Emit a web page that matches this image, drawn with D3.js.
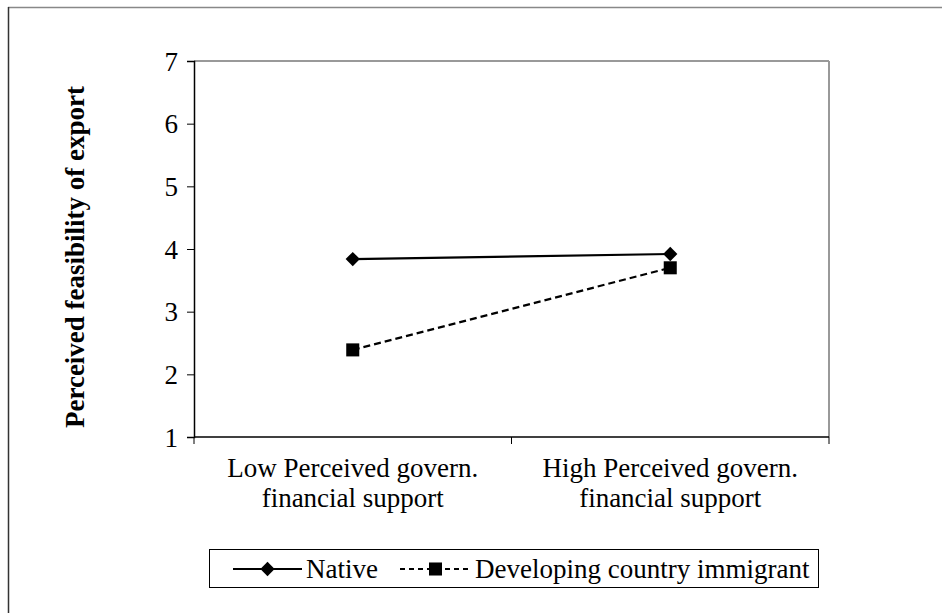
<!DOCTYPE html>
<html>
<head>
<meta charset="utf-8">
<script src="https://cdn.jsdelivr.net/npm/d3@7"></script>
<style>
  body { margin: 0; background: #fff; }
</style>
</head>
<body>
<div id="chart"></div>
<script>
// Datos
const categories = ["Low Perceived govern.\nfinancial support", "High Perceived govern.\nfinancial support"]
const seriesNames = ["Native", "Developing country immigrant"]
const nativeValues = [3.84, 3.92]
const immigrantValues = [2.39, 3.70]
const yTicks = [1, 2, 3, 4, 5, 6, 7]

const W = 942, H = 613
const margin = { left: 194, top: 61, right: 942 - 829, bottom: 613 - 437 }
const FS = "27px"
const FONT = "'Liberation Serif', 'Times New Roman', serif"

const SVG = d3.select("#chart").append("svg")
    .attr("width", W)
    .attr("height", H)

// marco exterior
SVG.append("line").attr("x1", 8).attr("x2", W).attr("y1", 7.5).attr("y2", 7.5)
    .attr("stroke", "#888").attr("stroke-width", 1.5)
SVG.append("line").attr("x1", 8.5).attr("x2", 8.5).attr("y1", 7).attr("y2", H)
    .attr("stroke", "#333").attr("stroke-width", 1.5)

const escalaX = d3.scaleBand()
    .domain(d3.range(categories.length))
    .range([margin.left, W - margin.right])

const escalaY = d3.scaleLinear()
    .domain([1, 7])
    .range([H - margin.bottom, margin.top])

// borde del área de gráfico (gris arriba y derecha)
SVG.append("line").attr("x1", margin.left).attr("x2", W - margin.right)
    .attr("y1", margin.top).attr("y2", margin.top).attr("stroke", "#999").attr("stroke-width", 2)
SVG.append("line").attr("x1", W - margin.right).attr("x2", W - margin.right)
    .attr("y1", margin.top).attr("y2", H - margin.bottom).attr("stroke", "#999").attr("stroke-width", 2)

// eje Y
const ejeY = SVG.append("g")
    .attr("transform", `translate(${margin.left},0)`)
    .call(d3.axisLeft(escalaY).tickValues(yTicks).tickSize(7).tickPadding(9).tickFormat(d3.format("d")))
ejeY.attr("font-family", null).attr("font-size", null)
ejeY.select(".domain").attr("stroke", "#000").attr("stroke-width", 1.5)
ejeY.selectAll(".tick line").attr("stroke", "#000").attr("stroke-width", 1)
ejeY.selectAll("text")
    .style("font-family", FONT)
    .style("font-size", FS)
    .attr("fill", "#000")
    .attr("dy", "0.34em")

// eje X (ticks en los bordes de las bandas)
const xEdges = d3.range(categories.length + 1).map(i =>
    i < categories.length ? escalaX(i) : escalaX(i - 1) + escalaX.bandwidth())
SVG.append("line").attr("x1", margin.left).attr("x2", W - margin.right)
    .attr("y1", escalaY(1)).attr("y2", escalaY(1)).attr("stroke", "#000").attr("stroke-width", 1.5)
SVG.selectAll(".xtick").data(xEdges).join("line")
    .attr("class", "xtick")
    .attr("x1", d => d).attr("x2", d => d)
    .attr("y1", escalaY(1)).attr("y2", escalaY(1) + 7)
    .attr("stroke", "#000")

const catLabels = SVG.selectAll(".cat").data(categories).join("text")
    .attr("class", "cat")
    .attr("text-anchor", "middle")
    .style("font-family", FONT)
    .style("font-size", FS)
catLabels.each(function (d, i) {
    const t = d3.select(this)
    d.split("\n").forEach((line, j) => {
        t.append("tspan")
            .attr("x", escalaX(i) + escalaX.bandwidth() / 2)
            .attr("y", 477 + j * 30)
            .text(line)
    })
})

// título eje Y
SVG.append("text")
    .attr("transform", `translate(84,${(margin.top + H - margin.bottom) / 2 + 8}) rotate(-90)`)
    .attr("text-anchor", "middle")
    .style("font-family", FONT)
    .style("font-size", FS)
    .style("font-weight", "bold")
    .text("Perceived feasibility of export")

const cx = i => escalaX(i) + escalaX.bandwidth() / 2
const linea = d3.line().x((d, i) => cx(i)).y(d => escalaY(d))

const diamond = d3.symbol().type(d3.symbolDiamond2).size(130)
const square = d3.symbol().type(d3.symbolSquare).size(170)

// serie Native
SVG.append("path").datum(nativeValues)
    .attr("d", linea).attr("fill", "none").attr("stroke", "#000").attr("stroke-width", 2.2)
SVG.selectAll(".native").data(nativeValues).join("path")
    .attr("class", "native")
    .attr("d", diamond)
    .attr("transform", (d, i) => `translate(${cx(i)},${escalaY(d)})`)
    .attr("fill", "#000")

// serie inmigrante
SVG.append("path").datum(immigrantValues)
    .attr("d", linea).attr("fill", "none").attr("stroke", "#000").attr("stroke-width", 2.2)
    .attr("stroke-dasharray", "7,4")
SVG.selectAll(".imm").data(immigrantValues).join("path")
    .attr("class", "imm")
    .attr("d", square)
    .attr("transform", (d, i) => `translate(${cx(i)},${escalaY(d)})`)
    .attr("fill", "#000")

// leyenda
const leyenda = SVG.append("g")
leyenda.append("rect")
    .attr("x", 209.5).attr("y", 549.5).attr("width", 609).attr("height", 38)
    .attr("fill", "#fff").attr("stroke", "#000").attr("stroke-width", 1)

const legendItems = [
    { name: seriesNames[0], x1: 233, x2: 302, sym: diamond, dash: null, tx: 306 },
    { name: seriesNames[1], x1: 400, x2: 471, sym: square, dash: "5,4", tx: 475 }
]
legendItems.forEach(it => {
    leyenda.append("line")
        .attr("x1", it.x1).attr("x2", it.x2).attr("y1", 569).attr("y2", 569)
        .attr("stroke", "#000").attr("stroke-width", 2)
        .attr("stroke-dasharray", it.dash)
    leyenda.append("path")
        .attr("d", it.sym)
        .attr("transform", `translate(${(it.x1 + it.x2) / 2},569)`)
        .attr("fill", "#000")
    leyenda.append("text")
        .attr("x", it.tx).attr("y", 578)
        .style("font-family", FONT)
        .style("font-size", FS)
        .text(it.name)
})
</script>
</body>
</html>
